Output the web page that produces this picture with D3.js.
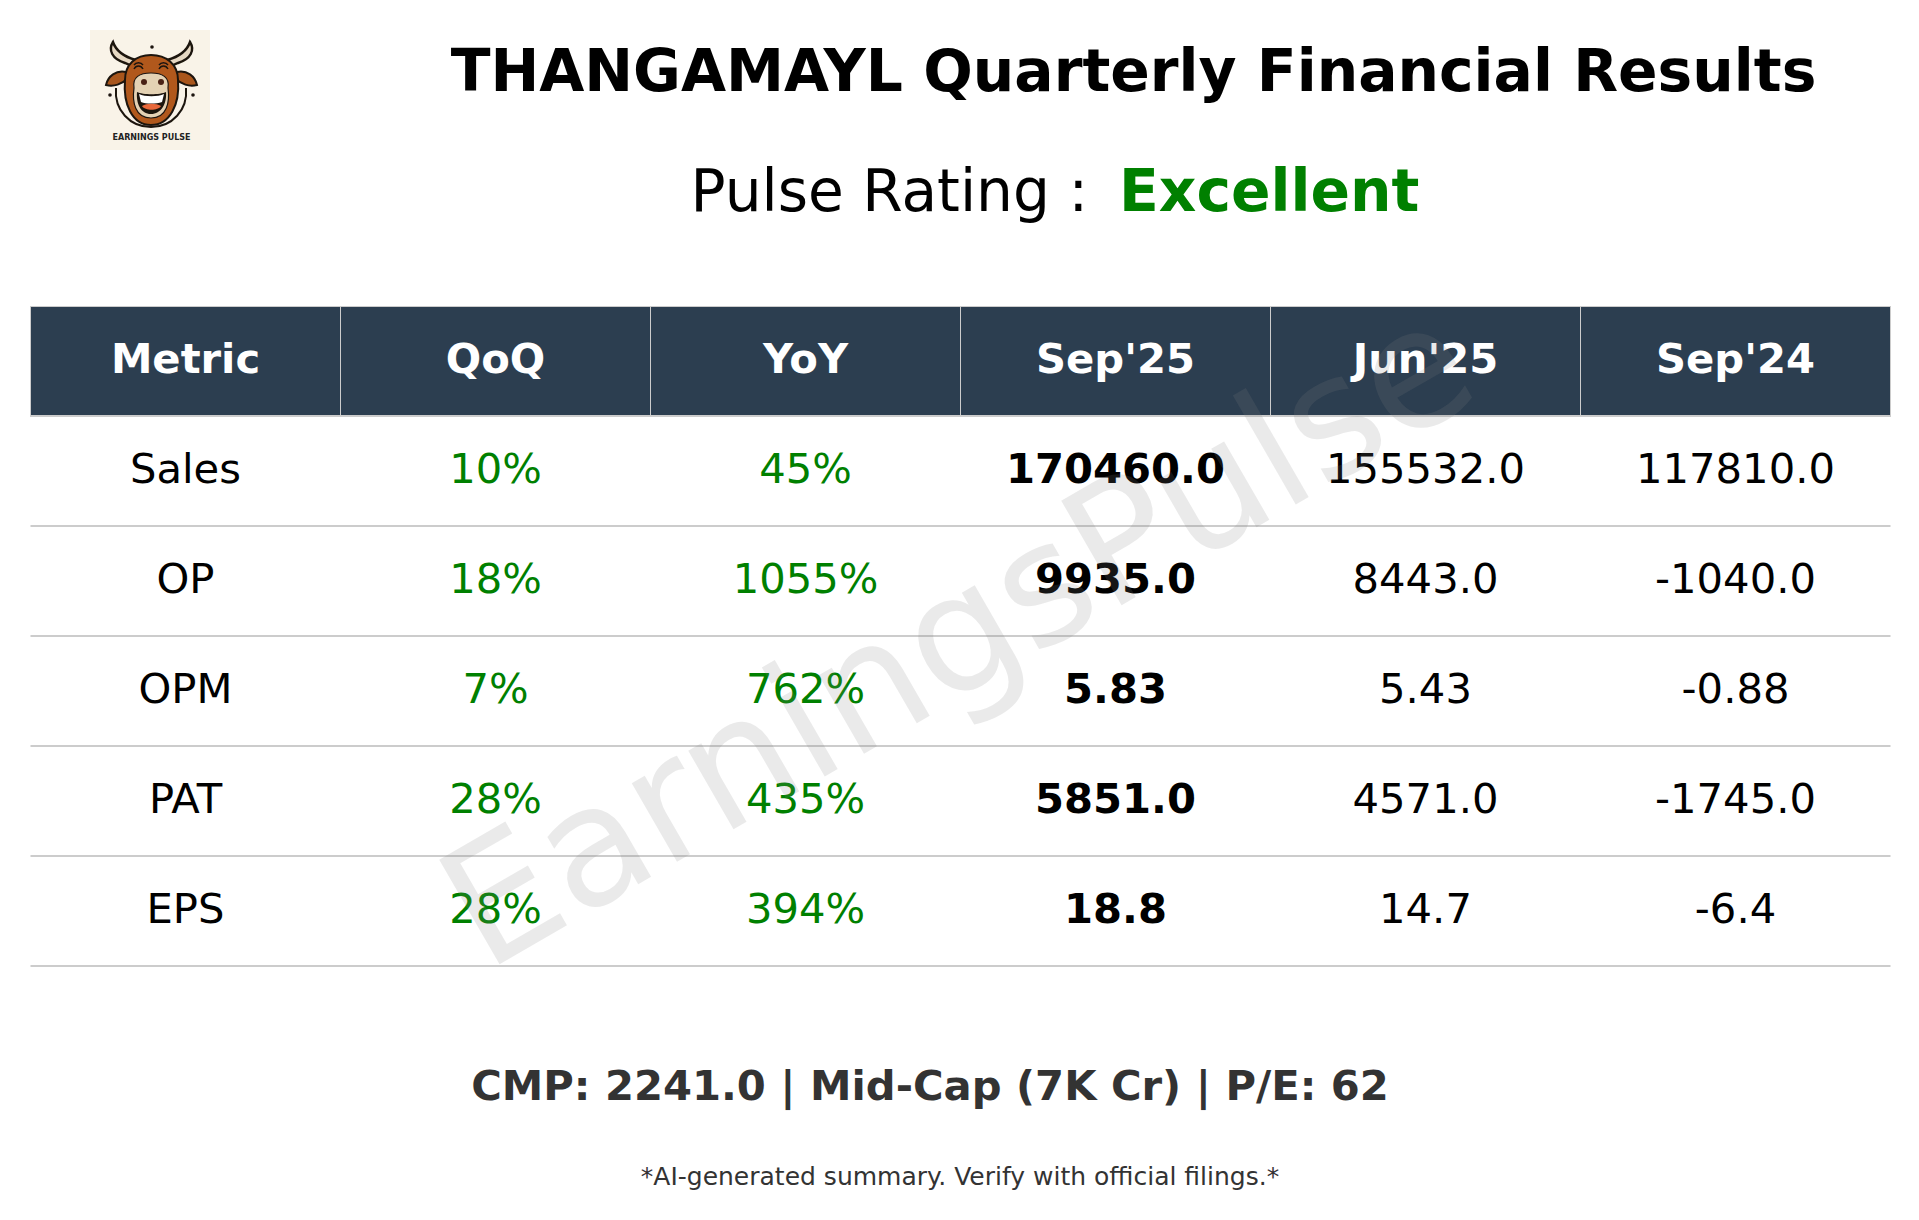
<!DOCTYPE html>
<html>
<head>
<meta charset="utf-8">
<title>THANGAMAYL Quarterly Financial Results</title>
<script src="https://cdn.jsdelivr.net/npm/d3@7"></script>
<style>
html, body { margin: 0; padding: 0; background: #fff; }
svg { display: block; font-family: "DejaVu Sans", sans-serif; }
</style>
</head>
<body>
<svg id="chart" width="1919" height="1220"></svg>
<script>
const columns = ['Metric', 'QoQ', 'YoY', "Sep'25", "Jun'25", "Sep'24"];
const metrics = ['Sales', 'OP', 'OPM', 'PAT', 'EPS'];
const qoq = ['10%', '18%', '7%', '28%', '28%'];
const yoy = ['45%', '1055%', '762%', '435%', '394%'];
const sep25 = ['170460.0', '9935.0', '5.83', '5851.0', '18.8'];
const jun25 = ['155532.0', '8443.0', '5.43', '4571.0', '14.7'];
const sep24 = ['117810.0', '-1040.0', '-0.88', '-1745.0', '-6.4'];
const seriesByColumn = [metrics, qoq, yoy, sep25, jun25, sep24];

const svg = d3.select('#chart');

const x = d3.scaleBand().domain(columns).range([30.5, 1890.5]);
const y = d3.scaleBand().domain(['header'].concat(metrics)).range([306.5, 966.5]);

// logo
svg.append('defs').append('filter').attr('id', 'soft')
    .append('feGaussianBlur').attr('stdDeviation', 0.45);
svg.append('rect').attr('x', 90).attr('y', 30).attr('width', 120).attr('height', 120).attr('fill', '#f9f3e8');
const logo = svg.append('g').attr('transform', 'translate(90,30)').attr('filter', 'url(#soft)');
const ink = '#1d1410';
logo.append('path').attr('d', 'M35 33 C22 29 18 20 23 12 C26 21 35 27 46 30 L42 36Z M88 33 C101 29 105 20 100 12 C97 21 88 27 77 30 L81 36Z')
    .attr('fill', '#e6d8c3').attr('stroke', ink).attr('stroke-width', 2.4);
logo.append('path').attr('d', 'M36 42 C26 40 18 46 16 55 C24 57 32 54 37 49Z M87 42 C97 40 105 46 107 55 C99 57 91 54 86 49Z')
    .attr('fill', '#a9561d').attr('stroke', ink).attr('stroke-width', 2);
logo.append('path').attr('d', 'M26 58 C24 80 40 97 61 97 C82 97 98 80 96 58')
    .attr('fill', 'none').attr('stroke', ink).attr('stroke-width', 2);
logo.append('path').attr('d', 'M35 50 C35 34 46 25 61 25 C76 25 88 34 88 50 C90 74 80 95 61 95 C42 95 33 74 35 50Z')
    .attr('fill', '#b1591c').attr('stroke', ink).attr('stroke-width', 2);
logo.append('path').attr('d', 'M44 39 C46 35 51 35 53 39 M44 35 C46 32 51 32 53 35 M69 39 C71 35 76 35 78 39 M69 35 C71 32 76 32 78 35')
    .attr('fill', 'none').attr('stroke', ink).attr('stroke-width', 1.4);
logo.append('path').attr('d', 'M44 58 C42 47 50 43 61 43 C72 43 80 47 78 58 C80 72 77 88 61 88 C45 88 42 72 44 58Z')
    .attr('fill', '#e4d2b4').attr('stroke', ink).attr('stroke-width', 1.2);
logo.append('circle').attr('cx', 54).attr('cy', 52).attr('r', 3).attr('fill', '#4a2014');
logo.append('circle').attr('cx', 71).attr('cy', 52).attr('r', 3).attr('fill', '#4a2014');
logo.append('path').attr('d', 'M47 62 C53 65 70 65 76 62 C77 74 71 84 61 84 C51 84 46 74 47 62Z').attr('fill', ink);
logo.append('path').attr('d', 'M49 64 C55 67 68 67 74 64 L72 72 C66 74 56 74 51 72Z').attr('fill', '#fff');
logo.append('path').attr('d', 'M52 76 C57 73 66 73 71 76 C68 81 55 81 52 76Z').attr('fill', '#e8683a');
logo.selectAll('circle.spark').data([[62, 17], [20, 65], [103, 65]]).enter().append('circle')
    .attr('class', 'spark').attr('cx', d => d[0]).attr('cy', d => d[1]).attr('r', 1.8).attr('fill', ink);
svg.append('text').attr('x', 151.5).attr('y', 139.5).attr('text-anchor', 'middle')
    .attr('font-size', 8).attr('font-weight', 'bold').attr('fill', '#222').text('EARNINGS PULSE');

// title
svg.append('text').attr('x', 1133.5).attr('y', 90.5).attr('text-anchor', 'middle')
    .attr('font-size', 58.3).attr('font-weight', 'bold').attr('fill', '#000')
    .text('THANGAMAYL Quarterly Financial Results');
svg.append('text').attr('x', 1088).attr('y', 210.5).attr('text-anchor', 'end')
    .attr('font-size', 58.2).attr('fill', '#000').text('Pulse Rating :');
svg.append('text').attr('x', 1119).attr('y', 210.5)
    .attr('font-size', 58.3).attr('font-weight', 'bold').attr('fill', 'green').text('Excellent');

// table header
svg.append('g').selectAll('rect').data(columns).enter().append('rect')
    .attr('x', d => x(d)).attr('y', y('header'))
    .attr('width', x.bandwidth()).attr('height', y.bandwidth())
    .attr('fill', '#2c3e50').attr('stroke', '#cccccc').attr('stroke-width', 1);
svg.append('g').selectAll('text').data(columns).enter().append('text')
    .attr('x', d => x(d) + x.bandwidth() / 2).attr('y', y('header') + y.bandwidth() / 2 - 4)
    .attr('dy', '0.36em').attr('text-anchor', 'middle')
    .attr('font-size', 41.7).attr('font-weight', 'bold').attr('fill', '#fff').text(d => d);

// row rules, snapped to whole pixels so they stay 2px wide
svg.append('g').selectAll('line').data(metrics).enter().append('line')
    .attr('x1', x.range()[0]).attr('x2', x.range()[1])
    .attr('y1', d => y(d) + y.bandwidth() - 0.5).attr('y2', d => y(d) + y.bandwidth() - 0.5)
    .attr('stroke', '#cccccc').attr('stroke-width', 2);
svg.append('line')
    .attr('x1', x.range()[0]).attr('x2', x.range()[1])
    .attr('y1', y(metrics[0]) - 0.5).attr('y2', y(metrics[0]) - 0.5)
    .attr('stroke', '#cccccc').attr('stroke-width', 2);

// cells
columns.forEach((col, c) => {
    svg.append('g').selectAll('text').data(seriesByColumn[c]).enter().append('text')
        .attr('x', x(col) + x.bandwidth() / 2)
        .attr('y', (d, i) => y(metrics[i]) + y.bandwidth() / 2 - 4)
        .attr('dy', '0.36em').attr('text-anchor', 'middle')
        .attr('font-size', 41.7)
        .attr('font-weight', col === "Sep'25" ? 'bold' : 'normal')
        .attr('fill', col === 'QoQ' || col === 'YoY' ? 'green' : '#000')
        .text(d => d);
});

// watermark
svg.append('text').attr('transform', 'translate(985.3,683.8) rotate(-30)')
    .attr('text-anchor', 'middle')
    .attr('font-size', 165.5).attr('fill', 'gray').attr('fill-opacity', 0.17)
    .text('EarningsPulse');

// footer
svg.append('text').attr('x', 930).attr('y', 1100).attr('text-anchor', 'middle')
    .attr('font-size', 41.7).attr('font-weight', 'bold').attr('fill', '#333')
    .text('CMP: 2241.0 | Mid-Cap (7K Cr) | P/E: 62');
svg.append('text').attr('x', 960).attr('y', 1185).attr('text-anchor', 'middle')
    .attr('font-size', 25).attr('fill', '#333')
    .text('*AI-generated summary. Verify with official filings.*');
</script>
</body>
</html>
